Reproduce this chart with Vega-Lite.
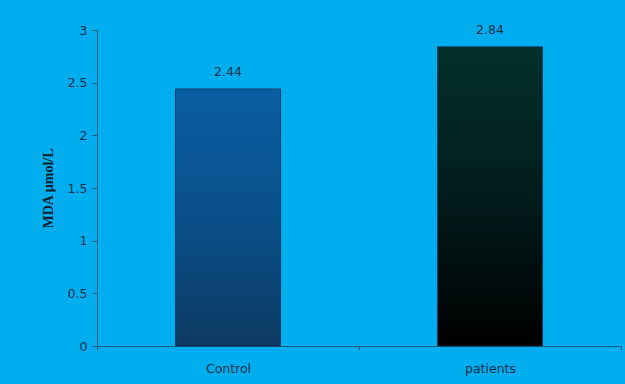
{
  "$schema": "https://vega.github.io/schema/vega-lite/v6.json",
  "autosize": "none",
  "width": 524,
  "height": 316,
  "padding": {"left": 97, "top": 30, "right": 4, "bottom": 38},
  "background": "#00aeef",
  "config": {"view": {"stroke": null}},
  "data": {"values": [
    {"group": "Control", "mda": 2.44},
    {"group": "patients", "mda": 2.84}
  ]},
  "encoding": {
    "x": {"field": "group", "type": "nominal", "sort": null,
      "scale": {"paddingInner": 0, "paddingOuter": 0},
      "axis": {"title": null, "labelAngle": 0, "labelFont": "DejaVu Sans", "labelFontSize": 12.5, "labelColor": "#0b2f4a",
        "domainColor": "#1a5878", "tickColor": "#1a5878", "tickBand": "extent", "tickSize": 4, "labelPadding": 12}},
    "y": {"field": "mda", "type": "quantitative",
      "scale": {"domain": [0, 3], "nice": false},
      "axis": {"title": "MDA µmol/L", "titleFont": "Liberation Serif", "titleFontSize": 14, "titleFontWeight": "bold", "titleColor": "#0b1f30",
        "titlePadding": 12, "values": [0, 0.5, 1, 1.5, 2, 2.5, 3], "format": "~g", "grid": false,
        "labelFont": "DejaVu Sans", "labelFontSize": 12.5, "labelColor": "#0b2f4a", "labelPadding": 5,
        "domainColor": "#1a5878", "tickColor": "#1a5878", "tickSize": 5}}
  },
  "layer": [
    {"mark": {"type": "bar", "size": 105, "stroke": "#0a3050", "strokeWidth": 0.8},
      "encoding": {"color": {
        "condition": {"test": "datum.group === 'Control'", "value": {"gradient": "linear", "x1": 0, "y1": 0, "x2": 0, "y2": 1,
          "stops": [{"offset": 0, "color": "#0a5ea3"}, {"offset": 0.5, "color": "#0a4f8a"}, {"offset": 1, "color": "#0d3a62"}]}},
        "value": {"gradient": "linear", "x1": 0, "y1": 0, "x2": 0, "y2": 1,
          "stops": [{"offset": 0, "color": "#03302d"}, {"offset": 0.5, "color": "#021c1b"}, {"offset": 1, "color": "#000000"}]}
      }}},
    {"mark": {"type": "text", "dy": -17, "font": "DejaVu Sans", "fontSize": 12.5, "color": "#0b2f4a"},
      "encoding": {"text": {"field": "mda", "type": "quantitative", "format": ".2f"}}}
  ]
}
